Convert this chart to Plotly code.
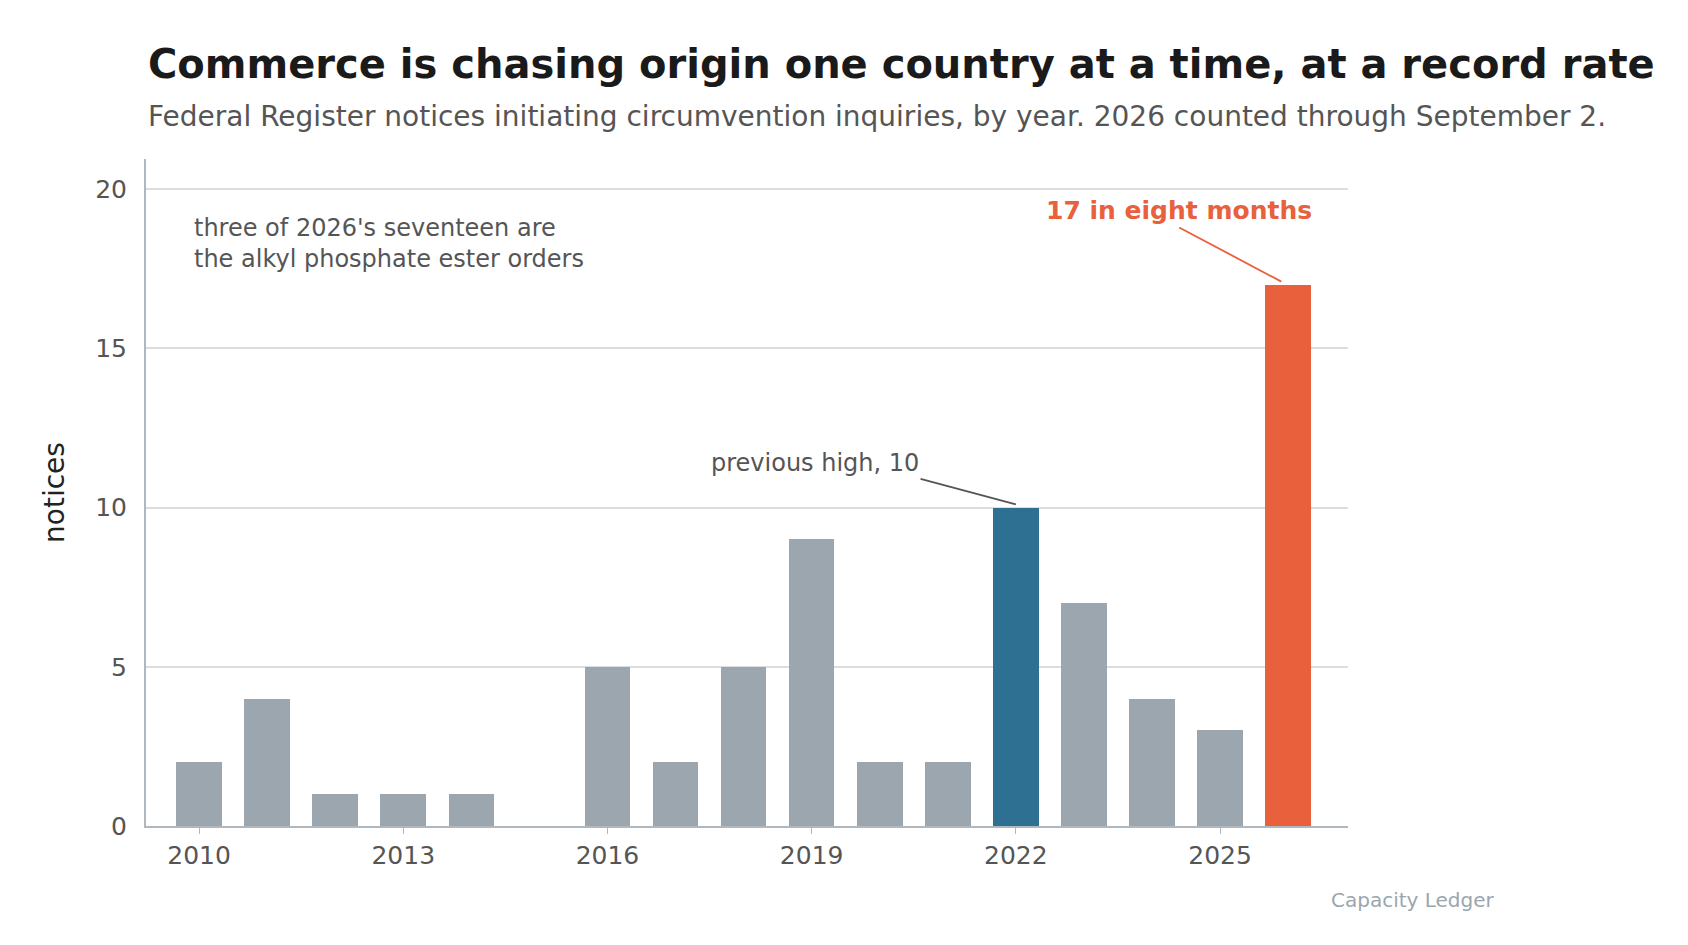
import plotly.graph_objects as go

years = list(range(2010, 2027))
notices = [2, 4, 1, 1, 1, 0, 5, 2, 5, 9, 2, 2, 10, 7, 4, 3, 17]
tick_vals = [2010, 2013, 2016, 2019, 2022, 2025]

colors = []
for y in years:
    if y == 2022:
        colors.append("#2e7091")
    elif y == 2026:
        colors.append("#e8603c")
    else:
        colors.append("#9ba6ae")

F = "DejaVu Sans"
fig = go.Figure(go.Bar(x=years, y=notices, marker_color=colors, width=0.67, marker_line_width=0))
fig.update_layout(
    width=1688, height=945, plot_bgcolor="white", paper_bgcolor="white",
    margin=dict(l=138, r=348, t=151, b=127), showlegend=False,
    font=dict(family=F, color="#555"),
    bargap=0,
)
fig.update_xaxes(range=[2009.22, 2026.88], tickvals=tick_vals, ticks="outside", ticklen=6,
                 tickcolor="#b0b8bf", showline=True, linecolor="#b0b8bf", linewidth=2,
                 tickfont=dict(size=25, color="#555"), showgrid=False, zeroline=False)
fig.update_yaxes(range=[0, 20.95], tickvals=[0, 5, 10, 15, 20], showline=True, linecolor="#b0b8bf",
                 linewidth=2, gridcolor="#dddddd", gridwidth=1.5, zeroline=False,
                 tickfont=dict(size=25, color="#555"), ticks="", ticklabelstandoff=12,
                 title=dict(text="notices", font=dict(size=28, color="#222"), standoff=22))

anns = [
    dict(xref="paper", yref="paper", x=-0.0, y=1.0, yanchor="bottom", xanchor="left",
         text="<b>Commerce is chasing origin one country at a time, at a record rate</b>",
         font=dict(size=40, color="#1a1a1a"), yshift=70, showarrow=False),
    dict(xref="paper", yref="paper", x=0.0, y=1.0, yanchor="bottom", xanchor="left",
         text="Federal Register notices initiating circumvention inquiries, by year. 2026 counted through September 2.",
         font=dict(size=28, color="#555"), yshift=24, showarrow=False),
    dict(xref="x", yref="y", x=2009.9, y=19.3, xanchor="left", yanchor="top", align="left",
         text="three of 2026's seventeen are<br>the alkyl phosphate ester orders",
         font=dict(size=24, color="#555"), showarrow=False),
    dict(xref="x", yref="y", x=2022.0, y=10.1, ax=2020.6, ay=10.9, axref="x", ayref="y",
         text="previous high, 10", font=dict(size=24, color="#555"), showarrow=True,
         arrowhead=0, arrowwidth=1.8, arrowcolor="#555", xanchor="right", yanchor="bottom", standoff=0),
    dict(xref="x", yref="y", x=2025.9, y=17.1, ax=2024.4, ay=18.8, axref="x", ayref="y",
         text="<b>17 in eight months</b>", font=dict(size=25, color="#e8603c"), showarrow=True,
         arrowhead=0, arrowwidth=1.8, arrowcolor="#e8603c", xanchor="center", yanchor="bottom"),
    dict(xref="paper", yref="paper", x=1.124, y=0, yanchor="top", xanchor="right", yshift=-60,
         text="Capacity Ledger", font=dict(size=20, color="#9ba6ae"), showarrow=False),
]
fig.update_layout(annotations=anns)
fig.write_html("out.html")
